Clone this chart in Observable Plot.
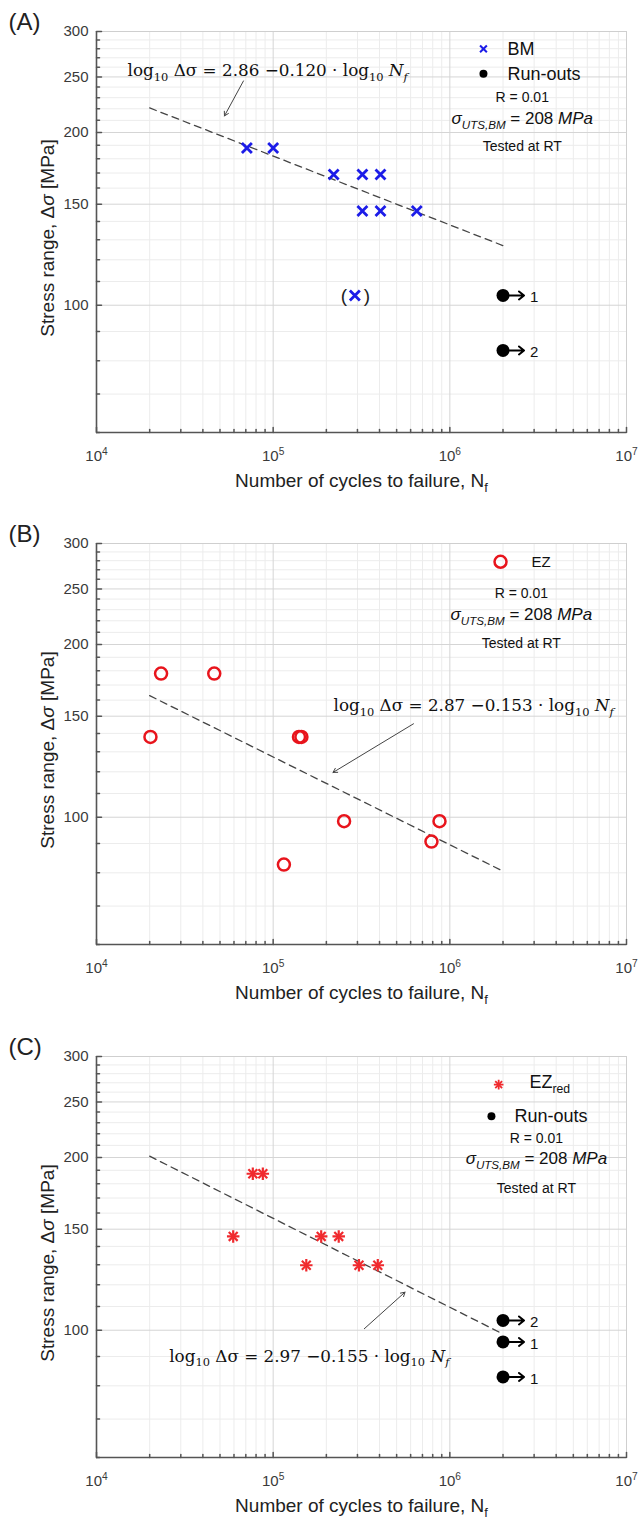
<!DOCTYPE html>
<html><head><meta charset="utf-8">
<script src="https://cdn.jsdelivr.net/npm/d3@7"></script>
<script src="https://cdn.jsdelivr.net/npm/@observablehq/plot@0.6"></script>
<style>
html,body{margin:0;padding:0;background:#fff;overflow:hidden}
#chart svg{display:block}
</style></head><body><div id="chart"></div>
<script>
// ---------- axes / ticks ----------
const xDomain = [1e4, 1e7];
const yDomain = [60, 300];
const xMajor = [1e4, 1e5, 1e6, 1e7];
const xTickLabels = ["10{p:4}", "10{p:5}", "10{p:6}", "10{p:7}"];
const xMinor = [2e4,3e4,4e4,5e4,6e4,7e4,8e4,9e4,2e5,3e5,4e5,5e5,6e5,7e5,8e5,9e5,2e6,3e6,4e6,5e6,6e6,7e6,8e6,9e6];
const yMajor = [100, 150, 200, 250, 300];
const yTickLabels = ["100", "150", "200", "250", "300"];
const yMinor = [60,70,80,90,110,120,130,140,160,170,180,190,210,220,230,240,260,270,280,290];
const xTitle = "Number of cycles to failure, N{s:f}";
const yTitle = "Stress range, Δ{i:σ} [MPa]";
const panelLabels = ["(A)", "(B)", "(C)"];

// ---------- Panel A : BM ----------
const bmN = [71000, 100000, 220000, 320000, 405000, 320000, 405000, 650000];
const bmS = [188, 188, 169, 169, 169, 146, 146, 146];
const bmOutlierN = [290000];
const bmOutlierS = [104];
const runA_N = [2e6, 2e6];
const runA_S = [104, 83.4];
const runA_count = ["1", "2"];

// ---------- Panel B : EZ ----------
const ezN = [23200, 46400, 20200, 140000, 144500, 252000, 874000, 787000, 115000];
const ezS = [178, 178, 138, 138, 138, 98.4, 98.4, 90.7, 82.7];

// ---------- Panel C : EZ_red ----------
const ezRedN = [76700, 87400, 59400, 187000, 235000, 154000, 306000, 391000];
const ezRedS = [187.4, 187.4, 145.7, 145.7, 145.7, 129.8, 129.8, 129.8];
const runC_N = [2e6, 2e6, 2e6];
const runC_S = [104, 95.4, 82.9];
const runC_count = ["2", "1", "1"];

// ---------- Basquin fits (A, B, C) ----------
const fitIntercept = [2.86, 2.87, 2.97];
const fitSlope = [-0.120, -0.153, -0.155];
const fitRangeN = [2e4, 2e6];
const fitLabels = [
  "log{s:10} Δσ = 2.86 −0.120 · log{s:10} {i:N}{si:f}",
  "log{s:10} Δσ = 2.87 −0.153 · log{s:10} {i:N}{si:f}",
  "log{s:10} Δσ = 2.97 −0.155 · log{s:10} {i:N}{si:f}"
];
const eqN = [15000, 219600, 25800];
const eqS = [256, 156.5, 90.1];
const eqArrowFromN = [67900, 622600, 328000];
const eqArrowFromS = [246, 145.5, 100.6];
const eqArrowToN = [53000, 218200, 557600];
const eqArrowToS = [213.8, 119.7, 116.5];

// ---------- legends / notes ----------
const legendSeries = ["BM", "EZ", "EZ{s:red}"];
const legendMarkN = [1.55e6, 1.936e6, 1.89e6];
const legendMarkS = [279.8, 278.8, 268];
const legendTextN = [2.12e6, 2.90e6, 2.82e6];
const legendTextS = [279.8, 278.8, 270.5];
const legendRunMarkN = [1.55e6, null, 1.72e6];
const legendRunTextN = [2.12e6, null, 2.32e6];
const legendRunS = [253.2, null, 236.1];
const noteTexts = ["R = 0.01", "{i:σ}{si:UTS,BM} = 208 {i:MPa}", "Tested at RT"];
const noteN = [2.57e6, 2.54e6, 3.09e6];
const noteS = [[230, 211.4, 188.9], [245.2, 225.4, 200.7], [216.2, 199.2, 176.9]];

// ---------- helpers ----------
const BLUE = "#1c1ce8", RED = "#e8141c", STAR = "#f02a2e";
const SANS = "'Liberation Sans', Arial, sans-serif";
const SERIF = "'Liberation Serif', 'Times New Roman', serif";
const MATH = "'DejaVu Serif', serif";
const pts = (N, S, extra = {}) => N.map((n, i) => ({N: n, S: S[i], ...Object.fromEntries(Object.entries(extra).map(([k, v]) => [k, v[i]]))}));
const tickShape = {draw(c, l) { c.moveTo(0, 0); c.lineTo(0, -l); }};
const runArrow = {draw(c, l) { c.moveTo(0, 0); c.lineTo(0, -l); c.moveTo(-4, -l + 5); c.lineTo(0, -l); c.lineTo(4, -l + 5); }};

function fitLine(k) {
  return fitRangeN.map(n => ({N: n, S: Math.pow(10, fitIntercept[k] + fitSlope[k] * Math.log10(n))}));
}

function baseMarks(k) {
  return [
    Plot.ruleY(yMinor, {stroke: "#ececec"}),
    Plot.ruleX(xMinor, {stroke: "#ececec"}),
    Plot.ruleY(yMajor, {stroke: "#d5d5d5"}),
    Plot.ruleX(xMajor, {stroke: "#d5d5d5"}),
    Plot.frame({stroke: "#cfcfcf"}),
    Plot.ruleX([xDomain[0]], {stroke: "#555", strokeWidth: 1.6}),
    Plot.ruleY([yDomain[0]], {stroke: "#555", strokeWidth: 1.6}),
    Plot.vector(xMinor, {x: d => d, y: yDomain[0], length: 3, rotate: 0, anchor: "start", shape: tickShape, stroke: "#555"}),
    Plot.vector(xMajor, {x: d => d, y: yDomain[0], length: 5, rotate: 0, anchor: "start", shape: tickShape, stroke: "#555"}),
    Plot.vector(yMinor, {x: xDomain[0], y: d => d, length: 3, rotate: 90, anchor: "start", shape: tickShape, stroke: "#555"}),
    Plot.vector(yMajor, {x: xDomain[0], y: d => d, length: 5, rotate: 90, anchor: "start", shape: tickShape, stroke: "#555"}),
    Plot.axisX({ticks: xMajor, tickFormat: d => xTickLabels[xMajor.indexOf(d)], tickSize: 0, tickPadding: 18, label: null, color: "#3a3a3a", fontSize: 15}),
    Plot.axisY({ticks: yMajor, tickFormat: d => yTickLabels[yMajor.indexOf(d)], tickSize: 0, tickPadding: 8, label: null, color: "#3a3a3a", fontSize: 15}),
    Plot.text([xTitle], {frameAnchor: "bottom", dy: 48, lineAnchor: "middle", textAnchor: "middle", text: d => d, fontSize: 19, fill: "#222"}),
    Plot.text([yTitle], {frameAnchor: "left", dx: -49, dy: 6, rotate: -90, textAnchor: "middle", lineAnchor: "middle", text: d => d, fontSize: 19, fill: "#222"}),
    Plot.text([panelLabels[k]], {frameAnchor: "top-left", dx: -88, dy: -9, textAnchor: "start", lineAnchor: "middle", text: d => d, fontSize: 24, fill: "#222"}),
    Plot.line(fitLine(k), {x: "N", y: "S", stroke: "#444", strokeWidth: 1.3, strokeDasharray: "7,5"}),
    Plot.arrow([k], {x1: i => eqArrowFromN[i], y1: i => eqArrowFromS[i], x2: i => eqArrowToN[i], y2: i => eqArrowToS[i], stroke: "#444", strokeWidth: 1, headLength: 7}),
    Plot.text([k], {x: i => eqN[i], y: i => eqS[i], text: i => fitLabels[i], textAnchor: "start", fontFamily: MATH, fontSize: 16.8, fill: "#111"}),
    Plot.text(noteTexts, {x: noteN[k], y: (d, i) => noteS[k][i], text: d => d,
      fontFamily: (d, i) => i === 1 ? SERIF : SANS, fontSize: (d, i) => i === 1 ? 17 : 14, fill: "#111"})
  ];
}

function runoutMarks(N, S, counts) {
  const data = pts(N, S, {c: counts});
  return [
    Plot.vector(data, {x: "N", y: "S", length: 21, rotate: 90, anchor: "start", shape: runArrow, stroke: "black", strokeWidth: 2}),
    Plot.dot(data, {x: "N", y: "S", r: 6.5, fill: "black"}),
    Plot.text(data, {x: "N", y: "S", text: "c", dx: 27, dy: 2, textAnchor: "start", fontSize: 15, fill: "#111"})
  ];
}

function legendMarks(k, markOpts) {
  const m = [
    Plot.dot([k], {x: i => legendMarkN[i], y: i => legendMarkS[i], ...markOpts}),
    Plot.text([k], {x: i => legendTextN[i], y: i => legendTextS[i], text: i => legendSeries[i], textAnchor: "start", fontSize: k === 1 ? 15 : 18, fill: "#111"})
  ];
  if (legendRunS[k] != null) {
    m.push(Plot.dot([k], {x: i => legendRunMarkN[i], y: i => legendRunS[i], r: 4, fill: "black"}));
    m.push(Plot.text([k], {x: i => legendRunTextN[i], y: i => legendRunS[i], text: () => "Run-outs", textAnchor: "start", fontSize: 18, fill: "#111"}));
  }
  return m;
}

function panel(k, height, marks) {
  return Plot.plot({
    width: 638, height,
    marginLeft: 96, marginRight: 12, marginTop: 31, marginBottom: height - 31 - 401,
    x: {type: "log", domain: xDomain},
    y: {type: "log", domain: yDomain},
    style: {fontFamily: SANS, fontSize: "15px", background: "white", overflow: "visible"},
    marks: [...baseMarks(k), ...marks]
  });
}

// ---------- panels ----------
const bm = pts(bmN, bmS);
const bmOut = pts(bmOutlierN, bmOutlierS);
const plotA = panel(0, 512, [
  Plot.dot(bm, {x: "N", y: "S", symbol: "times", r: 4.6, stroke: BLUE, strokeWidth: 2.8, fill: "none"}),
  Plot.dot(bmOut, {x: "N", y: "S", symbol: "times", r: 4.6, stroke: BLUE, strokeWidth: 2.8, fill: "none"}),
  Plot.text(bmOut, {x: "N", y: "S", text: () => "(", dx: -11, fontSize: 19, fill: "#222"}),
  Plot.text(bmOut, {x: "N", y: "S", text: () => ")", dx: 12, fontSize: 19, fill: "#222"}),
  ...runoutMarks(runA_N, runA_S, runA_count),
  ...legendMarks(0, {symbol: "times", r: 3.2, stroke: BLUE, strokeWidth: 2, fill: "none"})
]);

const ez = pts(ezN, ezS);
const plotB = panel(1, 513, [
  Plot.dot(ez, {x: "N", y: "S", r: 6, stroke: RED, strokeWidth: 2.5, fill: "none"}),
  ...legendMarks(1, {r: 6, stroke: RED, strokeWidth: 2.5, fill: "none"})
]);

const ezr = pts(ezRedN, ezRedS);
const plotC = panel(2, 499, [
  Plot.dot(ezr, {x: "N", y: "S", symbol: "plus", r: 4.1, stroke: STAR, strokeWidth: 2.2, fill: "none"}),
  Plot.dot(ezr, {x: "N", y: "S", symbol: "times", r: 4.1, stroke: STAR, strokeWidth: 2.2, fill: "none"}),
  ...runoutMarks(runC_N, runC_S, runC_count),
  ...legendMarks(2, {symbol: "plus", r: 3.2, stroke: STAR, strokeWidth: 1.8, fill: "none"}),
  Plot.dot([2], {x: i => legendMarkN[i], y: i => legendMarkS[i], symbol: "times", r: 3.2, stroke: STAR, strokeWidth: 1.8, fill: "none"})
]);

const root = document.getElementById("chart");
[plotA, plotB, plotC].forEach(p => root.appendChild(p));

// ---------- rich text: {s:..} subscript, {p:..} superscript, {i:..} italic ----------
const NS = "http://www.w3.org/2000/svg";
function richText(svg) {
  svg.querySelectorAll("text").forEach(t => {
    const leaves = t.querySelector("tspan") ? Array.from(t.querySelectorAll("tspan")) : [t];
    for (const el of leaves) {
      const s = el.textContent;
      if (!/\{[a-z]+:/.test(s)) continue;
      const fs = parseFloat(getComputedStyle(el).fontSize) || 15;
      while (el.firstChild) el.removeChild(el.firstChild);
      let cur = 0;
      const add = (str, flags) => {
        if (!str) return;
        const ts = document.createElementNS(NS, "tspan");
        let target = 0;
        if (flags.includes("s")) target = 0.28 * fs;
        if (flags.includes("p")) target = -0.42 * fs;
        if (target !== cur) { ts.setAttribute("dy", (target - cur).toFixed(2)); cur = target; }
        if (flags.includes("s") || flags.includes("p")) ts.setAttribute("font-size", (0.68 * fs).toFixed(1));
        if (flags.includes("i")) ts.setAttribute("font-style", "italic");
        ts.textContent = str;
        el.appendChild(ts);
      };
      const re = /\{([a-z]+):([^}]*)\}/g;
      let pos = 0, m;
      while ((m = re.exec(s))) { add(s.slice(pos, m.index), ""); add(m[2], m[1]); pos = re.lastIndex; }
      add(s.slice(pos), "");
    }
  });
}
[plotA, plotB, plotC].forEach(richText);
</script></body></html>
